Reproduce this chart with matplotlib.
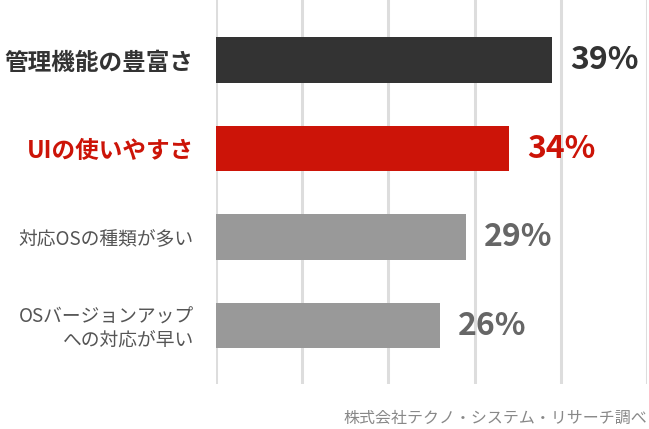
import matplotlib
matplotlib.use("Agg")
import matplotlib.pyplot as plt

plt.rcParams['font.family'] = ['Noto Sans CJK JP', 'DejaVu Sans']

# data
categories = ["管理機能の豊富さ", "UIの使いやすさ", "対応OSの種類が多い", "OSバージョンアップ\nへの対応が早い"]
values = [39, 34, 29, 26]
bar_colors = ["#333333", "#cc1408", "#999999", "#999999"]
label_colors = ["#333333", "#cc1408", "#555555", "#555555"]
value_colors = ["#333333", "#cc1408", "#666666", "#666666"]
label_bold = [True, True, False, False]
source = "株式会社テクノ・システム・リサーチ調べ"

fig = plt.figure(figsize=(6.49, 4.29), dpi=100)
ax = fig.add_axes([216 / 649, 45 / 429, 431 / 649, 384 / 429])

y = list(range(len(categories)))
ax.barh(y, values, height=0.51, color=bar_colors, zorder=3)

ax.set_xlim(0, 50)
ax.set_ylim(3.661, -0.678)
ax.set_xticks([0, 10, 20, 30, 40, 50])
ax.xaxis.grid(True, color="#dddddd", linewidth=2.2, zorder=0)
ax.tick_params(axis="x", length=0, labelbottom=False)
ax.tick_params(axis="y", length=0, pad=16)
for s in ax.spines.values():
    s.set_visible(False)

ax.set_yticks(y)
ax.set_yticklabels(categories)
for t, c, b in zip(ax.get_yticklabels(), label_colors, label_bold):
    t.set_color(c)
    t.set_linespacing(1.15)
    if b:
        t.set_fontsize(17)
        t.set_fontweight("bold")
    else:
        t.set_fontsize(13.5)

for i, v in enumerate(values):
    ax.text(v + 2.1, i, "{}%".format(v), va="center", ha="left",
            fontsize=23, fontweight="bold", color=value_colors[i])

fig.text(647 / 649, 1 - 418 / 429, source, ha="right", va="center",
         fontsize=11.5, color="#888888")

fig.savefig("out.png", dpi=100)
